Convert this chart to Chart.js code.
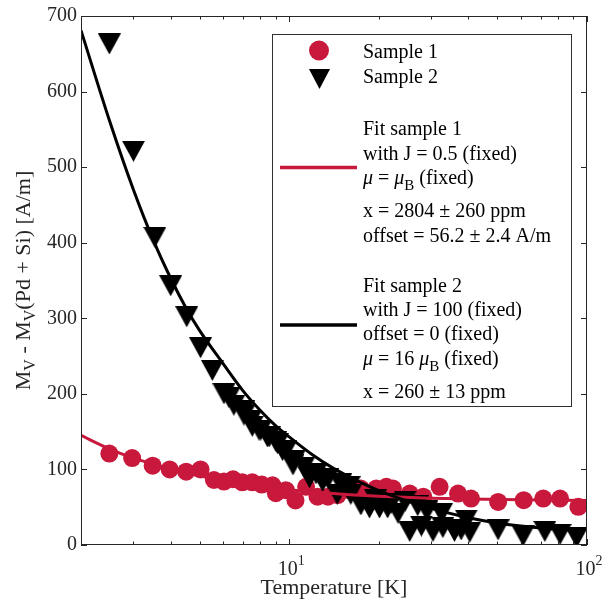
<!DOCTYPE html>
<html><head><meta charset="utf-8">
<script src="https://cdn.jsdelivr.net/npm/chart.js@4.4.1/dist/chart.umd.min.js"></script>
<style>html,body{margin:0;padding:0;background:#fff}canvas{display:block}</style>
</head><body>
<canvas id="c" width="611" height="608"></canvas>
<script>
// ---- data ----
const sample1T = [2.49, 2.97, 3.48, 3.97, 4.51, 5.04, 5.59, 6.04, 6.48, 6.96, 7.52, 8.09, 8.79, 9.02, 9.75, 10.5, 11.4, 12.45, 13.5, 14.55, 15.9, 17.4, 19.6, 21.2, 22.3, 25.4, 28.2, 32.0, 36.9, 40.8, 50.3, 61.3, 71.3, 81.2, 93.5];
const sample1M = [121, 115, 105, 100, 97, 100, 86, 84, 87, 83, 83, 80, 79, 68.5, 72.5, 59, 77, 64, 64, 66, 72.5, 74.7, 74.7, 77, 74.7, 68, 64, 77, 68, 61.5, 57, 59.3, 61.5, 61.5, 50.5];
const sample2T = [2.49, 3.0, 3.54, 4.0, 4.53, 5.04, 5.52, 6.04, 6.28, 6.52, 7.05, 7.05, 7.43, 7.52, 7.92, 8.03, 8.45, 8.57, 9.02, 9.14, 9.5, 9.75, 10.3, 10.4, 11.2, 11.7, 12.3, 12.95, 13.5, 14.5, 14.9, 15.9, 16.1, 17.4, 18.6, 19.5, 20.1, 21.4, 22.0, 23.2, 24.5, 25.4, 27.0, 27.8, 29.0, 30.4, 32.5, 32.8, 35.9, 37.8, 39.3, 40.4, 50.3, 61.0, 72.2, 81.2, 92.3];
const sample2M = [663, 521, 407, 343, 302, 261, 231, 200, 195, 185, 178, 172, 165, 157, 152, 152, 143, 143, 137, 134, 125, 125, 106, 112, 103, 89, 94, 84, 88, 67, 81, 77, 67, 53, 49, 60, 49, 49, 55, 42, 58, 18, 52, 25, 45, 18, 42, 23, 18, 20, 33, 17, 20, 12, 18, 14, 10];
const fit1T = [2, 2.5, 3, 3.5, 4, 5, 6, 7, 8, 10, 13, 16, 20, 30, 40, 60, 100];
const fit1M = [145, 127, 115, 107, 100, 91.5, 85, 80.5, 77.5, 73, 69, 66.5, 64.5, 62, 61, 59.8, 58.8];
const fit2T = [2, 2.5, 3, 3.5, 4, 4.5, 5, 6, 7, 8, 9, 10, 12, 14, 17, 20, 25, 30, 40, 50, 60, 70, 90];
const fit2M = [681, 560, 470, 403, 353, 314, 284, 240, 204, 178, 158, 143, 119, 102, 84.5, 72, 58, 48.4, 36, 29, 25, 22.5, 19.7];
const yTicks = [0, 100, 200, 300, 400, 500, 600, 700];
const xMajorTicks = [10, 100];
const xMajorExp = ['1', '2'];
const xMinorTicks = [2, 3, 4, 5, 6, 7, 8, 9, 20, 30, 40, 50, 60, 70, 80, 90];
const seriesNames = ['Sample 1', 'Sample 2'];

const FONT = "'Liberation Serif','Times New Roman',serif";
const RED = '#C8183C';
const AX = '#262626';

function triImg(w, h) {
  const c = document.createElement('canvas');
  c.width = w; c.height = h;
  const g = c.getContext('2d');
  g.fillStyle = '#000';
  g.beginPath(); g.moveTo(0, 0); g.lineTo(w, 0); g.lineTo(w / 2, h); g.closePath(); g.fill();
  return c;
}
const triPlot = triImg(23, 21);
const triLegend = triImg(21, 20);

function fontStr(p) { return (p.italic ? 'italic ' : '') + p.size + 'px ' + FONT; }
function drawRuns(ctx, parts, x, y, align) {
  let total = 0;
  parts.forEach(p => { ctx.font = fontStr(p); p.w = ctx.measureText(p.t).width; total += p.w; });
  let cx = align === 'center' ? x - total / 2 : x;
  ctx.textAlign = 'left'; ctx.textBaseline = 'alphabetic';
  parts.forEach(p => { ctx.font = fontStr(p); ctx.fillText(p.t, cx, y + (p.dy || 0)); cx += p.w; });
}
const T = (t, o) => Object.assign({ t: t, size: 20 }, o || {});

const legendLines = [
  { y: 135, parts: [T('Fit sample 1')] },
  { y: 159.5, parts: [T('with J = 0.5 (fixed)')] },
  { y: 184, parts: [T('\u03BC', { italic: true }), T(' = '), T('\u03BC', { italic: true }), T('B', { size: 15, dy: 6 }), T(' (fixed)')] },
  { y: 216.5, parts: [T('x = 2804 \u00B1 260 ppm')] },
  { y: 241.5, parts: [T('offset = 56.2 \u00B1 2.4 A/m')] },
  { y: 291.5, parts: [T('Fit sample 2')] },
  { y: 316, parts: [T('with J = 100 (fixed)')] },
  { y: 340, parts: [T('offset = 0 (fixed)')] },
  { y: 365, parts: [T('\u03BC', { italic: true }), T(' = 16 '), T('\u03BC', { italic: true }), T('B', { size: 15, dy: 6 }), T(' (fixed)')] },
  { y: 398, parts: [T('x = 260 \u00B1 13 ppm')] }
];

const decor = {
  id: 'decor',
  afterDatasetsDraw(chart) {
    const ctx = chart.ctx, a = chart.chartArea, xs = chart.scales.x, ys = chart.scales.y;
    ctx.save();
    ctx.strokeStyle = AX; ctx.lineWidth = 1;
    ctx.strokeRect(a.left + 0.5, a.top + 0.5, a.right - a.left - 1, a.bottom - a.top - 1);
    ctx.beginPath();
    yTicks.forEach(v => {
      const py = Math.round(ys.getPixelForValue(v)) + 0.5;
      ctx.moveTo(a.left, py); ctx.lineTo(a.left + 6, py);
      ctx.moveTo(a.right, py); ctx.lineTo(a.right - 6, py);
    });
    xMajorTicks.forEach(v => {
      const px = Math.round(xs.getPixelForValue(v)) + 0.5;
      ctx.moveTo(px, a.bottom); ctx.lineTo(px, a.bottom - 6);
      ctx.moveTo(px, a.top); ctx.lineTo(px, a.top + 6);
    });
    xMinorTicks.forEach(v => {
      const px = Math.round(xs.getPixelForValue(v)) + 0.5;
      ctx.moveTo(px, a.bottom); ctx.lineTo(px, a.bottom - 3.5);
      ctx.moveTo(px, a.top); ctx.lineTo(px, a.top + 3.5);
    });
    ctx.stroke();
    // x tick labels 10^n
    ctx.fillStyle = AX;
    xMajorTicks.forEach((v, i) => {
      const px = xs.getPixelForValue(v) + 2;
      drawRuns(ctx, [T('10'), T(xMajorExp[i], { size: 14, dy: -10 })], px, 575, 'center');
    });
    // x title
    drawRuns(ctx, [T('Temperature [K]', { size: 22 })], (a.left + a.right) / 2, 594, 'center');
    // y title
    ctx.translate(30, (a.top + a.bottom) / 2);
    ctx.rotate(-Math.PI / 2);
    drawRuns(ctx, [T('M', { size: 22 }), T('V', { size: 16, dy: 5 }), T(' - M', { size: 22 }), T('V', { size: 16, dy: 5 }), T('(Pd + Si) [A/m]', { size: 22 })], 0, 0, 'center');
    ctx.restore();
  },
  afterDraw(chart) {
    const ctx = chart.ctx;
    ctx.save();
    ctx.fillStyle = '#fff';
    ctx.fillRect(273, 35, 298, 371);
    ctx.strokeStyle = '#303030'; ctx.lineWidth = 1;
    ctx.strokeRect(272.5, 34.5, 299, 372);
    // markers
    ctx.fillStyle = RED;
    ctx.beginPath(); ctx.arc(319, 50.5, 10, 0, Math.PI * 2); ctx.fill();
    ctx.drawImage(triLegend, 319.5 - 10.5, 79 - 10);
    ctx.fillStyle = '#000';
    drawRuns(ctx, [T(seriesNames[0])], 363, 58, 'left');
    drawRuns(ctx, [T(seriesNames[1])], 363, 83, 'left');
    // fit lines
    ctx.lineWidth = 3.3;
    ctx.strokeStyle = RED;
    ctx.beginPath(); ctx.moveTo(280, 167.5); ctx.lineTo(357, 167.5); ctx.stroke();
    ctx.strokeStyle = '#000';
    ctx.beginPath(); ctx.moveTo(280, 325); ctx.lineTo(357, 325); ctx.stroke();
    legendLines.forEach(l => drawRuns(ctx, l.parts, 363, l.y, 'left'));
    ctx.restore();
  }
};

const pts = (xs, ys) => xs.map((t, i) => ({ x: t, y: ys[i] }));

new Chart(document.getElementById('c'), {
  type: 'scatter',
  data: {
    datasets: [
      { label: 'Fit sample 2', data: pts(fit2T, fit2M), showLine: true, borderColor: '#000', borderWidth: 3, pointRadius: 0, cubicInterpolationMode: 'monotone', order: 0 },
      { label: 'Fit sample 1', data: pts(fit1T, fit1M), showLine: true, borderColor: RED, borderWidth: 3, pointRadius: 0, cubicInterpolationMode: 'monotone', order: 1 },
      { label: seriesNames[1], data: pts(sample2T, sample2M), pointStyle: triPlot, pointRadius: 10, showLine: false, order: 2 },
      { label: seriesNames[0], data: pts(sample1T, sample1M), pointStyle: 'circle', pointRadius: 9, backgroundColor: RED, borderWidth: 0, showLine: false, order: 3 }
    ]
  },
  options: {
    responsive: false,
    animation: false,
    devicePixelRatio: 1,
    events: [],
    layout: { padding: { left: 0, top: 14, right: 24, bottom: 0 } },
    plugins: { legend: { display: false }, tooltip: { enabled: false } },
    scales: {
      x: {
        type: 'logarithmic', min: 2, max: 100,
        ticks: { display: false },
        grid: { display: false, drawTicks: false },
        border: { display: false },
        afterFit: s => { s.height = 63; }
      },
      y: {
        type: 'linear', min: 0, max: 700,
        afterBuildTicks: s => { s.ticks = yTicks.map(v => ({ value: v })); },
        ticks: { font: { family: FONT, size: 20 }, color: AX, padding: 4 },
        grid: { display: false, drawTicks: false },
        border: { display: false },
        afterFit: s => { s.width = 81; }
      }
    }
  },
  plugins: [decor]
});
</script>
</body></html>
